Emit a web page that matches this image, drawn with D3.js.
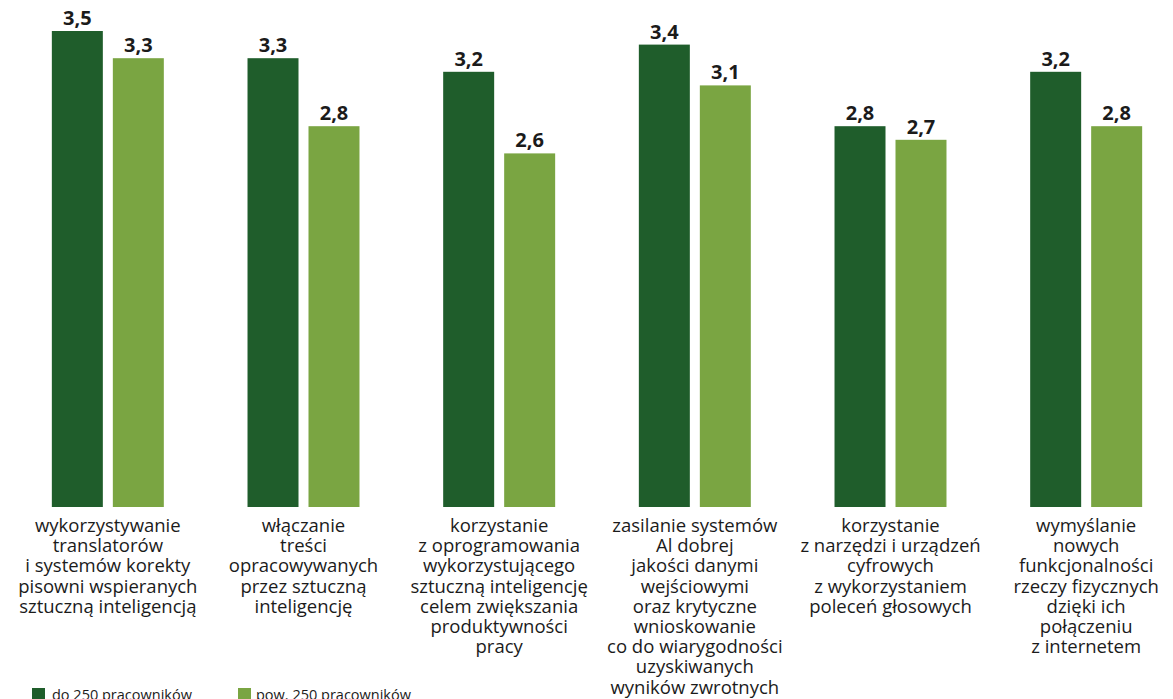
<!DOCTYPE html>
<html lang="pl">
<head>
<meta charset="utf-8">
<script src="https://cdn.jsdelivr.net/npm/d3@7"></script>
<style>
  html, body { margin: 0; padding: 0; background: #ffffff; }
  svg { display: block; }
</style>
</head>
<body>
<svg id="chart" width="1173" height="699"></svg>
<script>
// Categories (each label split into its display lines)
const categories = ["c1", "c2", "c3", "c4", "c5", "c6"];
const categoryLines = [
  ["wykorzystywanie", "translatorów", "i systemów korekty", "pisowni wspieranych", "sztuczną inteligencją"],
  ["włączanie", "treści", "opracowywanych", "przez sztuczną", "inteligencję"],
  ["korzystanie", "z oprogramowania", "wykorzystującego", "sztuczną inteligencję", "celem zwiększania", "produktywności", "pracy"],
  ["zasilanie systemów", "Al dobrej", "jakości danymi", "wejściowymi", "oraz krytyczne", "wnioskowanie", "co do wiarygodności", "uzyskiwanych", "wyników zwrotnych"],
  ["korzystanie", "z narzędzi i urządzeń", "cyfrowych", "z wykorzystaniem", "poleceń głosowych"],
  ["wymyślanie", "nowych", "funkcjonalności", "rzeczy fizycznych", "dzięki ich", "połączeniu", "z internetem"]
];

// Series
const seriesNames = ["do 250 pracowników", "pow. 250 pracowników"];
const smallFirms = [3.5, 3.3, 3.2, 3.4, 2.8, 3.2];
const largeFirms = [3.3, 2.8, 2.6, 3.1, 2.7, 2.8];
const seriesColors = ["#1f5d2b", "#7aa542"];

const rows = categories.map((c, i) => ({
  cat: c,
  lines: categoryLines[i],
  values: [
    { s: seriesNames[0], v: smallFirms[i] },
    { s: seriesNames[1], v: largeFirms[i] }
  ]
}));

const svg = d3.select("#chart");
const baseY = 507;

const x0 = d3.scaleBand()
  .domain(categories)
  .range([10, 1184])
  .paddingInner(0.4277)
  .paddingOuter(0.21385);

const x1 = d3.scaleBand()
  .domain(seriesNames)
  .range([0, x0.bandwidth()])
  .paddingInner(0.164)
  .paddingOuter(0);

const y = d3.scaleLinear()
  .domain([0, 3.5])
  .range([baseY, 31]);

const color = d3.scaleOrdinal().domain(seriesNames).range(seriesColors);
const fmt = v => d3.format(".1f")(v).replace(".", ",");

const groups = svg.append("g")
  .selectAll("g")
  .data(rows)
  .join("g")
  .attr("transform", d => `translate(${x0(d.cat)},0)`);

groups.selectAll("rect")
  .data(d => d.values)
  .join("rect")
  .attr("x", d => x1(d.s))
  .attr("y", d => y(d.v))
  .attr("width", x1.bandwidth())
  .attr("height", d => y(0) - y(d.v))
  .attr("fill", d => color(d.s));

groups.selectAll("text.val")
  .data(d => d.values)
  .join("text")
  .attr("class", "val")
  .attr("x", d => x1(d.s) + x1.bandwidth() / 2)
  .attr("y", d => y(d.v) - 6)
  .attr("text-anchor", "middle")
  .attr("font-family", "'Open Sans', sans-serif")
  .attr("font-weight", 700)
  .attr("font-size", 20)
  .attr("fill", "#1b1b1b")
  .text(d => fmt(d.v));

// Category labels under the bars
const labels = svg.append("g")
  .selectAll("text")
  .data(rows)
  .join("text")
  .attr("x", d => x0(d.cat) + x0.bandwidth() / 2)
  .attr("y", 532)
  .attr("text-anchor", "middle")
  .attr("font-family", "'Open Sans', sans-serif")
  .attr("font-size", 18.5)
  .attr("fill", "#1b1b1b");

labels.selectAll("tspan")
  .data(d => d.lines)
  .join("tspan")
  .attr("x", function () { return d3.select(this.parentNode).attr("x"); })
  .attr("dy", (d, i) => i === 0 ? 0 : 20.2)
  .text(d => d);

// Legend
const legendX = [32, 238];
const legend = svg.append("g")
  .selectAll("g")
  .data(seriesNames)
  .join("g")
  .attr("transform", (d, i) => `translate(${legendX[i]},688)`);

legend.append("rect")
  .attr("width", 13)
  .attr("height", 13)
  .attr("fill", d => color(d));

legend.append("text")
  .attr("x", (d, i) => i === 0 ? 20 : 18)
  .attr("y", 12)
  .attr("font-family", "'Open Sans', sans-serif")
  .attr("font-size", 14.5)
  .attr("fill", "#1b1b1b")
  .text(d => d);
</script>
</body>
</html>
